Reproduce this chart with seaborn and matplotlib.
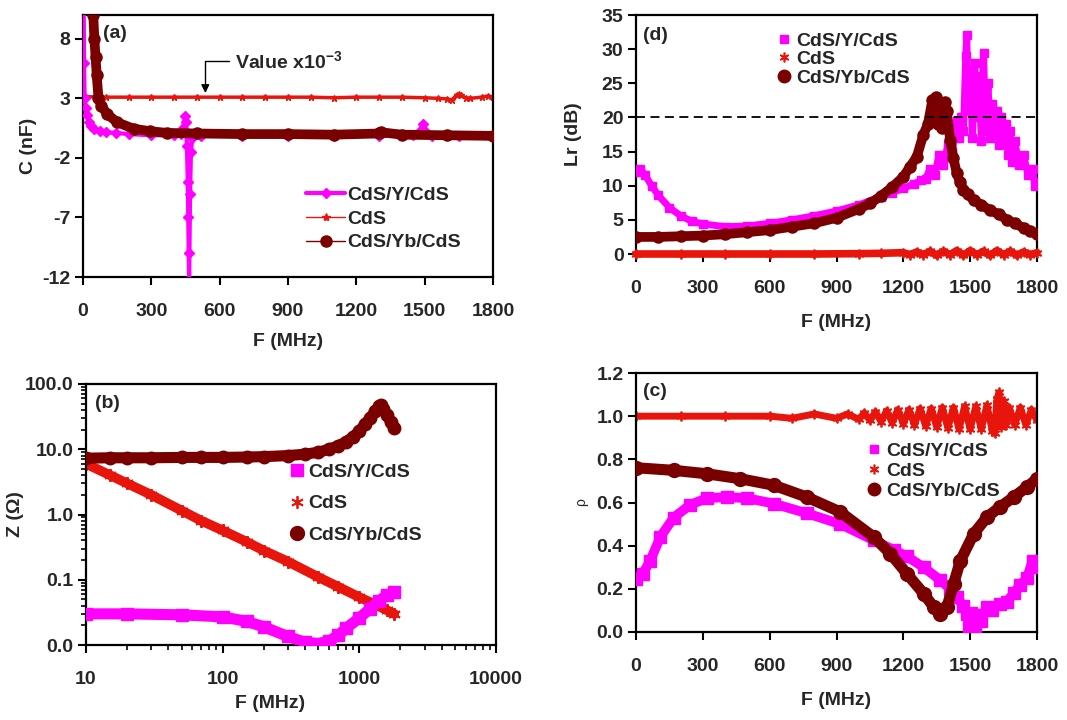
import matplotlib
matplotlib.use("Agg")
import matplotlib.pyplot as plt
import seaborn as sns
from matplotlib.lines import Line2D
from matplotlib.ticker import LogLocator, NullFormatter, FixedLocator, FixedFormatter

# ---------------- data ----------------
names = ["CdS/Y/CdS", "CdS", "CdS/Yb/CdS"]

# (a) capacitance C (nF) vs F (MHz)
a_F_y = [3, 5, 7, 12, 17, 25, 36, 50, 73, 100, 146, 200, 300, 400, 430, 440, 448, 452, 456, 460, 462, 464,
         466, 470, 474, 480, 520, 700, 900, 1100, 1300, 1450, 1480, 1493, 1505, 1530, 1650, 1800]
a_C_y = [10.5, 6.0, 3.0, 2.2, 1.6, 1.0, 0.65, 0.45, 0.25, 0.15, 0.1, 0.0, -0.1, -0.1, 0.0, 0.5, 1.5, 1.0,
         -1.0, -4.0, -7.0, -10.0, -12.5, -5.0, -1.5, -0.3, -0.15, -0.15, -0.15, -0.15, -0.15, -0.1, 0.3,
         0.85, 0.2, -0.15, -0.15, -0.15]
a_F_cds = [0, 100, 200, 300, 400, 500, 600, 700, 800, 900, 1000, 1100, 1200, 1300, 1400, 1500, 1560, 1600,
           1620, 1640, 1650, 1660, 1680, 1700, 1750, 1780, 1800]
a_C_cds = [3.15, 3.1, 3.1, 3.1, 3.1, 3.1, 3.1, 3.1, 3.1, 3.1, 3.1, 3.05, 3.1, 3.1, 3.1, 3.05, 3.0, 2.95,
           2.85, 3.3, 3.35, 3.25, 3.05, 3.0, 3.1, 3.2, 3.1]
a_F_yb = [40, 45, 50, 55, 60, 68, 80, 105, 149, 222, 296, 369, 500, 700, 900, 1100, 1300, 1310, 1400,
          1600, 1800]
a_C_yb = [11.0, 10.0, 8.0, 6.5, 5.0, 3.0, 2.4, 1.7, 1.0, 0.45, 0.24, 0.1, 0.05, 0.0, 0.0, -0.05, 0.05,
          0.15, -0.05, -0.1, -0.15]

# (b) impedance Z (ohm) vs F (MHz), log-log
b_F_y = [10, 20, 50, 100, 150, 200, 300, 400, 500, 600, 700, 800, 1000, 1200, 1400, 1600, 1800]
b_Z_y = [0.030, 0.030, 0.029, 0.027, 0.023, 0.019, 0.0135, 0.011, 0.0105, 0.0115, 0.014, 0.018, 0.026,
         0.036, 0.048, 0.058, 0.066]
b_F_cds = [10, 15, 20, 30, 50, 70, 100, 150, 200, 300, 500, 700, 1000, 1300, 1600, 1800]
b_Z_cds = [6.0, 4.0, 3.0, 2.0, 1.15, 0.8, 0.57, 0.38, 0.28, 0.19, 0.11, 0.078, 0.054, 0.042, 0.034, 0.030]
b_F_yb = [10, 15, 20, 30, 50, 70, 100, 150, 200, 300, 400, 500, 600, 700, 800, 900, 1000, 1100, 1200,
          1300, 1400, 1450, 1500, 1600, 1700, 1800]
b_Z_yb = [7.3, 7.4, 7.4, 7.4, 7.5, 7.5, 7.5, 7.6, 7.7, 8.0, 8.4, 9.0, 10.0, 11.3, 13.0, 15.5, 19.0, 24.0,
          30.0, 38.0, 46.0, 48.0, 42.0, 33.0, 26.0, 21.0]

# (d) return loss Lr (dB) vs F (MHz)
d_F_y = [0, 20, 40, 70, 100, 150, 200, 250, 300, 400, 500, 600, 700, 800, 900, 1000, 1100, 1150, 1200,
         1250, 1280, 1300, 1320, 1340, 1360, 1380, 1400, 1420, 1440, 1450, 1460, 1470, 1480, 1485, 1490,
         1500, 1510, 1520, 1530, 1540, 1550, 1560, 1570, 1580, 1590, 1600, 1610, 1620, 1630, 1640, 1650,
         1660, 1670, 1680, 1690, 1700, 1720, 1740, 1760, 1780, 1790, 1800]
d_L_y = [12.0, 12.4, 11.6, 10.0, 8.6, 6.8, 5.6, 4.8, 4.4, 4.0, 4.1, 4.5, 5.0, 5.6, 6.3, 7.2, 8.4, 9.0,
         9.6, 10.3, 10.8, 11.0, 12.5, 11.5, 14.5, 13.0, 16.0, 15.0, 19.5, 17.0, 20.0, 18.0, 29.0, 32.0,
         21.0, 27.0, 17.0, 28.0, 20.0, 26.0, 16.5, 29.5, 18.0, 25.0, 17.0, 22.0, 17.5, 21.0, 16.0, 20.0,
         17.0, 19.0, 14.5, 18.0, 13.5, 16.5, 13.0, 14.5, 11.5, 12.5, 10.0, 10.5]
d_F_cds = [0, 200, 400, 600, 800, 1000, 1100, 1200, 1230, 1260, 1290, 1320, 1350, 1380, 1410, 1440,
           1470, 1500, 1530, 1560, 1590, 1620, 1650, 1680, 1710, 1740, 1770, 1800]
d_L_cds = [0.0, 0.0, 0.0, 0.0, 0.0, 0.05, 0.1, 0.2, -0.1, 0.3, -0.1, 0.4, -0.2, 0.4, -0.1, 0.5, -0.2,
           0.5, -0.1, 0.4, -0.2, 0.5, -0.1, 0.4, -0.2, 0.3, -0.1, 0.2]
d_F_yb = [0, 100, 200, 300, 400, 500, 600, 700, 800, 900, 1000, 1050, 1100, 1150, 1200, 1230, 1260,
          1290, 1310, 1330, 1345, 1355, 1365, 1375, 1385, 1395, 1410, 1425, 1440, 1455, 1470, 1490, 1515,
          1550, 1590, 1630, 1665, 1700, 1740, 1770, 1800]
d_L_yb = [2.5, 2.5, 2.6, 2.7, 2.9, 3.2, 3.5, 4.0, 4.5, 5.3, 6.6, 7.4, 8.5, 9.8, 11.3, 12.8, 14.2, 17.5,
          19.0, 22.5, 23.0, 19.0, 21.5, 18.5, 22.3, 21.0, 16.7, 14.0, 11.8, 10.5, 9.4, 8.8, 7.9, 7.2, 6.4,
          5.8, 5.0, 4.5, 3.8, 3.4, 3.0]
d_threshold = 20

# (c) reflection coefficient rho vs F (MHz)
c_F_y = [0, 30, 64, 109, 169, 244, 319, 409, 498, 618, 767, 917, 1067, 1157, 1216, 1291, 1366, 1410,
         1441, 1470, 1486, 1495, 1505, 1520, 1535, 1550, 1575, 1600, 1635, 1665, 1695, 1725, 1755, 1780,
         1800]
c_R_y = [0.247, 0.27, 0.33, 0.44, 0.53, 0.59, 0.62, 0.625, 0.62, 0.595, 0.55, 0.50, 0.425, 0.38, 0.35,
         0.30, 0.24, 0.2, 0.16, 0.12, 0.085, 0.02, 0.09, 0.03, 0.08, 0.05, 0.115, 0.10, 0.13, 0.14, 0.18,
         0.22, 0.25, 0.33, 0.30]
c_F_cds = [0, 200, 400, 600, 700, 800, 900, 950, 1000, 1025, 1050, 1075, 1100, 1125, 1150, 1175, 1200,
           1225, 1250, 1275, 1300, 1325, 1350, 1375, 1400, 1425, 1450, 1475, 1500, 1525, 1550, 1575, 1600,
           1610, 1620, 1630, 1640, 1650, 1660, 1675, 1700, 1725, 1750, 1775, 1800]
c_R_cds = [1.0, 1.0, 1.0, 1.0, 0.99, 1.01, 0.99, 1.01, 0.985, 1.015, 0.98, 1.02, 0.975, 1.025, 0.97,
           1.03, 0.965, 1.03, 0.96, 1.035, 0.955, 1.035, 0.95, 1.04, 0.945, 1.04, 0.94, 1.045, 0.94,
           1.045, 0.94, 1.05, 0.93, 0.92, 1.08, 1.11, 0.95, 1.07, 0.96, 1.04, 0.96, 1.04, 0.96, 1.03, 0.98]
c_F_yb = [0, 169, 319, 468, 618, 767, 917, 1067, 1142, 1216, 1291, 1336, 1366, 1396, 1426, 1456, 1516,
          1576, 1635, 1695, 1755, 1800]
c_R_yb = [0.761, 0.749, 0.733, 0.71, 0.68, 0.625, 0.556, 0.44, 0.363, 0.27, 0.178, 0.116, 0.085, 0.116,
          0.224, 0.33, 0.455, 0.533, 0.58, 0.625, 0.672, 0.71]

# ---------------- style ----------------
MAG = "#FF00FF"
RED = "#E8150D"
MAR = "#7A0000"
AST = (6, 2, 0)

sns.set_style("ticks")
plt.rcParams["font.family"] = ["Liberation Sans", "DejaVu Sans"]
plt.rcParams["font.weight"] = "bold"
plt.rcParams["axes.labelweight"] = "bold"
plt.rcParams["axes.unicode_minus"] = False
plt.rcParams["mathtext.fontset"] = "custom"
plt.rcParams["mathtext.rm"] = "Liberation Sans:bold"
plt.rcParams["mathtext.bf"] = "Liberation Sans:bold"
plt.rcParams["mathtext.default"] = "bf"
FS = 14

fig = plt.figure(figsize=(10.67, 7.2), dpi=100)
W, H = 1067, 720


def box(l, t, r, b):
    return [l / W, 1 - b / H, (r - l) / W, (b - t) / H]


axA = fig.add_axes(box(83, 15, 493, 277))
axB = fig.add_axes(box(86, 384, 496, 645))
axD = fig.add_axes(box(636, 15, 1037, 254))
axC = fig.add_axes(box(636, 373, 1037, 632))


def band(ax, x, y, color, lw, marker, ms, mew=1.0, z=2, clip=True):
    sns.lineplot(x=x, y=y, ax=ax, sort=False, estimator=None, color=color, lw=lw,
                 marker=marker, ms=ms, mec=color, mfc=color, mew=mew, zorder=z, legend=False,
                 clip_on=clip)


def style(ax, xpad=13):
    for s in ax.spines.values():
        s.set_linewidth(1.6)
        s.set_color("black")
    ax.tick_params(which="major", direction="out", length=6, width=1.5, labelsize=FS, pad=3,
                   color="black")
    ax.tick_params(axis="x", which="major", pad=xpad)
    ax.tick_params(which="minor", direction="out", length=3.5, width=1.2, color="black")
    for lab in ax.get_xticklabels() + ax.get_yticklabels():
        lab.set_fontweight("bold")


# ---- (a)
band(axA, a_F_cds, a_C_cds, RED, 2.5, "*", 5, z=2)
band(axA, a_F_y, a_C_y, MAG, 3, "D", 5, z=3)
band(axA, a_F_yb, a_C_yb, MAR, 7, "o", 8, z=4)
axA.set_xlim(0, 1800)
axA.set_ylim(-12, 10)
axA.set_xticks([0, 300, 600, 900, 1200, 1500, 1800])
axA.set_yticks([-12, -7, -2, 3, 8])
axA.set_xlabel("F (MHz)", fontsize=FS)
axA.set_ylabel("C (nF)", fontsize=FS)
axA.xaxis.set_label_coords(0.5, -0.213)
axA.yaxis.set_label_coords(-0.112, 0.5)
axA.text(0.05, 0.93, "(a)", transform=axA.transAxes, fontsize=FS, fontweight="bold", va="center")
axA.annotate("Value x10$^{-3}$", xy=(537, 3.45), xytext=(668, 6.1), fontsize=FS, va="center",
             ha="left", arrowprops=dict(arrowstyle="-|>", connectionstyle="angle,angleA=0,angleB=90",
                                        color="black", lw=1, shrinkA=2, shrinkB=0, mutation_scale=12))
hA = [Line2D([], [], color=MAG, lw=3, marker="D", ms=5),
      Line2D([], [], color=RED, lw=1, marker="*", ms=6),
      Line2D([], [], color=MAR, lw=1, marker="o", ms=8)]
axA.legend(hA, names, loc="upper left", bbox_to_anchor=(0.545, 0.347), frameon=False, fontsize=FS,
           handlelength=2.0, handletextpad=0.1, labelspacing=0.32, borderpad=0, borderaxespad=0)
style(axA)

# ---- (b)
axB.set_xscale("log")
axB.set_yscale("log")
band(axB, b_F_cds, b_Z_cds, RED, 7, AST, 9, mew=1.5, z=2)
band(axB, b_F_y, b_Z_y, MAG, 8, "s", 8, z=3)
band(axB, b_F_yb, b_Z_yb, MAR, 8, "o", 9, z=4)
axB.set_xlim(10, 10000)
axB.set_ylim(0.01, 100)
axB.xaxis.set_major_locator(FixedLocator([10, 100, 1000, 10000]))
axB.xaxis.set_major_formatter(FixedFormatter(["10", "100", "1000", "10000"]))
axB.xaxis.set_minor_locator(LogLocator(base=10, subs=range(2, 10)))
axB.xaxis.set_minor_formatter(NullFormatter())
axB.yaxis.set_major_locator(FixedLocator([0.01, 0.1, 1, 10, 100]))
axB.yaxis.set_major_formatter(FixedFormatter(["0.0", "0.1", "1.0", "10.0", "100.0"]))
axB.yaxis.set_minor_locator(LogLocator(base=10, subs=range(2, 10)))
axB.yaxis.set_minor_formatter(NullFormatter())
axB.set_xlabel("F (MHz)", fontsize=FS)
axB.set_ylabel("Z (Ω)", fontsize=FS)
axB.xaxis.set_label_coords(0.449, -0.19)
axB.yaxis.set_label_coords(-0.151, 0.5)
axB.text(0.022, 0.927, "(b)", transform=axB.transAxes, fontsize=FS, fontweight="bold", va="center")
hB = [Line2D([], [], ls="none", color=MAG, marker="s", ms=8),
      Line2D([], [], ls="none", color=RED, marker=AST, ms=9, mew=1.3),
      Line2D([], [], ls="none", color=MAR, marker="o", ms=10)]
axB.legend(hB, names, loc="upper left", bbox_to_anchor=(0.495, 0.697), frameon=False, fontsize=FS,
           handlelength=0.8, handletextpad=0.2, labelspacing=0.73, borderpad=0, borderaxespad=0)
style(axB)

# ---- (d)
band(axD, d_F_cds, d_L_cds, RED, 5.5, AST, 7, mew=1.3, z=2.7, clip=False)
band(axD, d_F_y, d_L_y, MAG, 5, "s", 6, z=3)
band(axD, d_F_yb, d_L_yb, MAR, 7, "o", 8, z=4)
axD.axhline(d_threshold, color="black", lw=1.3, ls=(0, (5, 3)), zorder=5)
axD.set_xlim(0, 1800)
axD.set_ylim(0, 35)
axD.set_xticks([0, 300, 600, 900, 1200, 1500, 1800])
axD.set_yticks([0, 5, 10, 15, 20, 25, 30, 35])
axD.set_xlabel("F (MHz)", fontsize=FS)
axD.set_ylabel("Lr (dB)", fontsize=FS)
axD.xaxis.set_label_coords(0.5, -0.251)
axD.yaxis.set_label_coords(-0.135, 0.5)
axD.text(0.018, 0.916, "(d)", transform=axD.transAxes, fontsize=FS, fontweight="bold", va="center")
hD = [Line2D([], [], ls="none", color=MAG, marker="s", ms=6),
      Line2D([], [], ls="none", color=RED, marker=AST, ms=7, mew=1.2),
      Line2D([], [], ls="none", color=MAR, marker="o", ms=9)]
axD.legend(hD, names, loc="upper left", bbox_to_anchor=(0.35, 0.929), frameon=False, fontsize=FS,
           handlelength=0.8, handletextpad=0.2, labelspacing=0.05, borderpad=0, borderaxespad=0)
style(axD)

# ---- (c)
band(axC, c_F_cds, c_R_cds, RED, 5, AST, 7, mew=1.3, z=2)
band(axC, c_F_y, c_R_y, MAG, 7, "s", 8, z=3)
band(axC, c_F_yb, c_R_yb, MAR, 8, "o", 10, z=4)
axC.set_xlim(0, 1800)
axC.set_ylim(0, 1.2)
axC.set_xticks([0, 300, 600, 900, 1200, 1500, 1800])
axC.set_yticks([0, 0.2, 0.4, 0.6, 0.8, 1.0, 1.2])
axC.set_yticklabels(["0.0", "0.2", "0.4", "0.6", "0.8", "1.0", "1.2"])
axC.set_xlabel("F (MHz)", fontsize=FS)
axC.set_ylabel("ρ", fontsize=10, fontweight="normal")
axC.xaxis.set_label_coords(0.5, -0.232)
axC.yaxis.set_label_coords(-0.12, 0.5)
axC.text(0.018, 0.927, "(c)", transform=axC.transAxes, fontsize=FS, fontweight="bold", va="center")
hC = [Line2D([], [], ls="none", color=MAG, marker="s", ms=6),
      Line2D([], [], ls="none", color=RED, marker=AST, ms=7, mew=1.2),
      Line2D([], [], ls="none", color=MAR, marker="o", ms=9)]
axC.legend(hC, names, loc="upper left", bbox_to_anchor=(0.575, 0.732), frameon=False, fontsize=FS,
           handlelength=0.8, handletextpad=0.2, labelspacing=0.13, borderpad=0, borderaxespad=0)
style(axC)

fig.savefig("out.png", dpi=100)
